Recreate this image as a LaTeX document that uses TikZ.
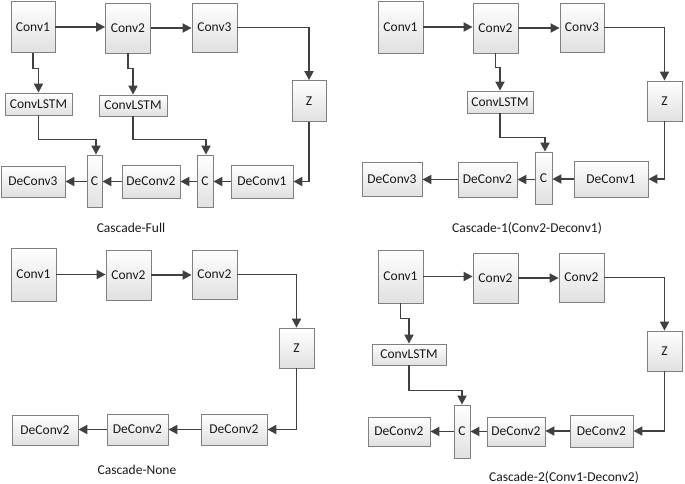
\documentclass[tikz,border=0pt]{standalone}
\usepackage{fontspec}
\setmainfont{Carlito}
\usetikzlibrary{arrows.meta}
\begin{document}
\begin{tikzpicture}[x=1pt,y=-1pt,
  blk/.style={draw=black!50, line width=0.8pt, top color=white, bottom color=black!12,
    inner sep=0pt, font=\fontsize{13.5}{15}\selectfont, text=black!90},
  arr/.style={draw=black!75, line width=1.8pt, -{Triangle[length=9pt,width=9pt]}},
  captxt/.style={font=\fontsize{13.5}{15}\selectfont, text=black!90}]
\useasboundingbox (0,0) rectangle (685,483);
% ---------- Panel 1: Cascade-Full ----------
\node[blk, minimum width=44, minimum height=51] (a1) at (33,27) {Conv1};
\node[blk, minimum width=45, minimum height=50] (a2) at (128,28) {Conv2};
\node[blk, minimum width=45, minimum height=49] (a3) at (214.5,27.5) {Conv3};
\node[blk, minimum width=34, minimum height=41] (aZ) at (309,101) {Z};
\node[blk, minimum width=67, minimum height=22] (aL1) at (38.5,104) {ConvLSTM};
\node[blk, minimum width=68, minimum height=21] (aL2) at (133,105.5) {ConvLSTM};
\node[blk, minimum width=15, minimum height=52] (aC1) at (94.5,181) {C};
\node[blk, minimum width=64, minimum height=31] (aD3) at (33,181.5) {DeConv3};
\node[blk, minimum width=58, minimum height=33] (aD2) at (151,181.5) {DeConv2};
\node[blk, minimum width=16, minimum height=52] (aC2) at (205,181) {C};
\node[blk, minimum width=62, minimum height=33] (aD1) at (262,181.5) {DeConv1};
\draw[arr] (a1.east) -- (a1.east -| a2.west);
\draw[arr] (a2.east) -- (a2.east -| a3.west);
\draw[arr] (a3.east) -| (aZ.north);
\draw[arr] (a1.south) -- ++(0,15.5) -| (aL1.north);
\draw[arr] (a2.south) -- ++(0,15) -| (aL2.north);
\draw[arr] (aL1.south) -- ++(0,24) -| ([xshift=1.5pt]aC1.north);
\draw[arr] (aL2.south) -- ++(0,23) -| ([xshift=1pt]aC2.north);
\draw[arr] (aZ.south) |- (aD1.east);
\draw[arr] (aD1.west) -- (aD1.west -| aC2.east);
\draw[arr] (aC2.west |- aD2.east) -- (aD2.east);
\draw[arr] (aD2.west) -- (aD2.west -| aC1.east);
\draw[arr] (aC1.west |- aD3.east) -- (aD3.east);
\node[captxt] (capa) at (131,228) {Cascade-Full};
% ---------- Panel 2: Cascade-1 ----------
\node[blk, minimum width=45, minimum height=52] (b1) at (400.5,27) {Conv1};
\node[blk, minimum width=45, minimum height=50] (b2) at (495.5,28) {Conv2};
\node[blk, minimum width=44, minimum height=49] (b3) at (582,27.5) {Conv3};
\node[blk, minimum width=35, minimum height=40] (bZ) at (664.5,101) {Z};
\node[blk, minimum width=66, minimum height=22] (bL) at (500,102) {ConvLSTM};
\node[blk, minimum width=17, minimum height=52] (bC) at (543.5,178) {C};
\node[blk, minimum width=60, minimum height=34] (bD3) at (392,179) {DeConv3};
\node[blk, minimum width=59, minimum height=35] (bD2) at (487.5,179.5) {DeConv2};
\node[blk, minimum width=74, minimum height=36] (bD1) at (611,179) {DeConv1};
\draw[arr] (b1.east) -- (b1.east -| b2.west);
\draw[arr] (b2.east) -- (b2.east -| b3.west);
\draw[arr] (b3.east) -| (bZ.north);
\draw[arr] (b2.south) -- ++(0,14) -| (bL.north);
\draw[arr] (bL.south) -- ++(0,24) -| ([xshift=1.5pt]bC.north);
\draw[arr] (bZ.south) |- (bD1.east);
\draw[arr] (bD1.west) -- (bD1.west -| bC.east);
\draw[arr] (bC.west |- bD2.east) -- (bD2.east);
\draw[arr] (bD2.west) -- (bD2.west -| bD3.east);
\node[captxt] (capb) at (527,228) {Cascade-1(Conv2-Deconv1)};
% ---------- Panel 3: Cascade-None ----------
\node[blk, minimum width=45, minimum height=53] (c1) at (33.5,274.5) {Conv1};
\node[blk, minimum width=45, minimum height=50] (c2) at (128.5,275) {Conv2};
\node[blk, minimum width=45, minimum height=49] (c3) at (214.5,274.5) {Conv2};
\node[blk, minimum width=35, minimum height=40] (cZ) at (296.5,348) {Z};
\node[blk, minimum width=66, minimum height=31] (cD1) at (234,429.5) {DeConv2};
\node[blk, minimum width=61, minimum height=31] (cD2) at (137.5,429.5) {DeConv2};
\node[blk, minimum width=66, minimum height=30] (cD3) at (45,430) {DeConv2};
\draw[arr] (c1.east) -- (c1.east -| c2.west);
\draw[arr] (c2.east) -- (c2.east -| c3.west);
\draw[arr] (c3.east) -| (cZ.north);
\draw[arr] (cZ.south) |- (cD1.east);
\draw[arr] (cD1.west) -- (cD1.west -| cD2.east);
\draw[arr] (cD2.west) -- (cD2.west -| cD3.east);
\node[captxt] (capc) at (137,470) {Cascade-None};
% ---------- Panel 4: Cascade-2 ----------
\node[blk, minimum width=45, minimum height=53] (d1) at (400.5,276.5) {Conv1};
\node[blk, minimum width=45, minimum height=50] (d2) at (495.5,278) {Conv2};
\node[blk, minimum width=45, minimum height=49] (d3) at (581.5,277.5) {Conv2};
\node[blk, minimum width=35, minimum height=40] (dZ) at (664.5,351) {Z};
\node[blk, minimum width=74, minimum height=21] (dL) at (409,354.5) {ConvLSTM};
\node[blk, minimum width=16, minimum height=53] (dC) at (462,431.5) {C};
\node[blk, minimum width=62, minimum height=29] (dD3) at (399,431.5) {DeConv2};
\node[blk, minimum width=58, minimum height=29] (dD2) at (516,431.5) {DeConv2};
\node[blk, minimum width=63, minimum height=32] (dD1) at (601.5,431) {DeConv2};
\draw[arr] (d1.east) -- (d1.east -| d2.west);
\draw[arr] (d2.east) -- (d2.east -| d3.west);
\draw[arr] (d3.east) -| (dZ.north);
\draw[arr] (d1.south) -- ++(0,15) -| (dL.north);
\draw[arr] (dL.south) -- ++(0,25) -| (dC.north);
\draw[arr] (dZ.south) |- (dD1.east);
\draw[arr] (dD1.west) -- (dD1.west -| dD2.east);
\draw[arr] (dD2.west) -- (dD2.west -| dC.east);
\draw[arr] (dC.west |- dD3.east) -- (dD3.east);
\node[captxt] (capd) at (564,477) {Cascade-2(Conv1-Deconv2)};
\end{tikzpicture}
\end{document}
